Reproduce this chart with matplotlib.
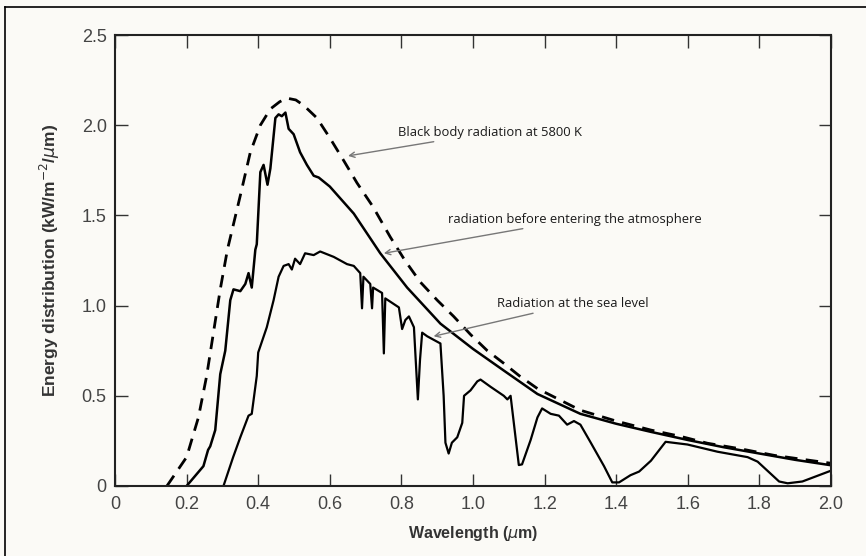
import matplotlib
matplotlib.use("Agg")
import matplotlib.pyplot as plt
from matplotlib.lines import Line2D

# ---- data ----
bb_x = [0.145, 0.20, 0.233, 0.256, 0.275, 0.294, 0.314, 0.35, 0.378, 0.406, 0.434, 0.46, 0.48,
        0.505, 0.527, 0.564, 0.60, 0.64, 0.676, 0.72, 0.769, 0.81, 0.853, 0.90, 0.946, 0.993,
        1.04, 1.086, 1.13, 1.18, 1.24, 1.30, 1.40, 1.497, 1.58, 1.655, 1.75, 1.841, 1.92, 2.0]
bb_y = [0.0, 0.16, 0.38, 0.61, 0.85, 1.09, 1.31, 1.61, 1.85, 2.00, 2.09, 2.13, 2.15,
        2.14, 2.11, 2.04, 1.93, 1.80, 1.68, 1.55, 1.38, 1.25, 1.13, 1.03, 0.94, 0.84,
        0.75, 0.68, 0.61, 0.54, 0.48, 0.42, 0.36, 0.31, 0.275, 0.237, 0.205, 0.17, 0.148, 0.126]

top_x = [0.20, 0.247, 0.26, 0.266, 0.28, 0.294, 0.308, 0.322, 0.331, 0.35, 0.364, 0.373, 0.382,
         0.392, 0.396, 0.406, 0.415, 0.426, 0.434, 0.448, 0.457, 0.466, 0.476, 0.485, 0.499,
         0.517, 0.536, 0.555, 0.569, 0.60, 0.667, 0.741, 0.816, 0.909, 1.0, 1.086, 1.18,
         1.30, 1.40, 1.497, 1.60, 1.70, 1.80, 1.90, 2.0]
top_y = [0.0, 0.11, 0.20, 0.22, 0.31, 0.62, 0.75, 1.03, 1.09, 1.08, 1.12, 1.18, 1.10,
         1.31, 1.34, 1.74, 1.78, 1.67, 1.76, 2.04, 2.06, 2.05, 2.07, 1.98, 1.95,
         1.85, 1.78, 1.72, 1.71, 1.66, 1.51, 1.29, 1.10, 0.90, 0.76, 0.64, 0.51,
         0.40, 0.345, 0.30, 0.255, 0.215, 0.18, 0.145, 0.115]

sea_x = [0.303, 0.33, 0.35, 0.373, 0.382, 0.396, 0.40, 0.424, 0.443, 0.457, 0.471, 0.485, 0.494,
         0.503, 0.517, 0.531, 0.555, 0.573, 0.611, 0.648, 0.667, 0.685, 0.69, 0.694, 0.713,
         0.718, 0.721, 0.746, 0.751, 0.755, 0.793, 0.802, 0.811, 0.821, 0.835, 0.846, 0.852,
         0.858, 0.872, 0.909, 0.918, 0.923, 0.932, 0.941, 0.956, 0.97, 0.975, 0.993, 1.012,
         1.021, 1.049, 1.086, 1.096, 1.105, 1.128, 1.137, 1.161, 1.18, 1.193, 1.217, 1.24,
         1.263, 1.282, 1.30, 1.329, 1.366, 1.389, 1.408, 1.44, 1.464, 1.497, 1.538, 1.599,
         1.683, 1.767, 1.795, 1.855, 1.879, 1.92, 2.0]
sea_y = [0.0, 0.16, 0.27, 0.39, 0.40, 0.61, 0.74, 0.88, 1.03, 1.16, 1.22, 1.23, 1.20,
         1.26, 1.23, 1.29, 1.28, 1.30, 1.27, 1.23, 1.22, 1.18, 0.985, 1.16, 1.12,
         0.985, 1.10, 1.07, 0.735, 1.04, 0.99, 0.87, 0.92, 0.94, 0.88, 0.48, 0.70,
         0.85, 0.83, 0.79, 0.50, 0.24, 0.18, 0.24, 0.27, 0.35, 0.50, 0.53, 0.58,
         0.59, 0.55, 0.50, 0.48, 0.50, 0.116, 0.12, 0.255, 0.38, 0.43, 0.40, 0.39,
         0.34, 0.36, 0.34, 0.24, 0.11, 0.02, 0.02, 0.06, 0.08, 0.14, 0.245, 0.23,
         0.19, 0.16, 0.135, 0.025, 0.015, 0.025, 0.085]

x_ticks = [0, 0.2, 0.4, 0.6, 0.8, 1.0, 1.2, 1.4, 1.6, 1.8, 2.0]
x_tick_labels = ["0", "0.2", "0.4", "0.6", "0.8", "1.0", "1.2", "1.4", "1.6", "1.8", "2.0"]
y_ticks = [0, 0.5, 1.0, 1.5, 2.0, 2.5]
y_tick_labels = ["0", "0.5", "1.0", "1.5", "2.0", "2.5"]

bg = "#fbfaf6"
fig = plt.figure(figsize=(8.66, 5.56), dpi=100, facecolor=bg)
ax = fig.add_axes([115/866, 1-486/556, (831-115)/866, (486-35)/556])
ax.set_facecolor(bg)

ax.plot(bb_x, bb_y, color="black", lw=2.0, linestyle=(0, (4.5, 3)))
ax.plot(top_x, top_y, color="black", lw=1.8)
ax.plot(sea_x, sea_y, color="black", lw=1.6)

ax.set_xlim(0, 2.0)
ax.set_ylim(0, 2.5)
ax.set_xticks(x_ticks)
ax.set_xticklabels(x_tick_labels)
ax.set_yticks(y_ticks)
ax.set_yticklabels(y_tick_labels)

fam = ["Liberation Sans Narrow", "Liberation Sans", "DejaVu Sans"]
for lab in ax.get_xticklabels() + ax.get_yticklabels():
    lab.set_fontfamily(fam)
    lab.set_fontsize(13)
    lab.set_color("#444444")

ax.tick_params(axis="both", direction="in", length=9, width=1.0, color="#333333",
               top=True, right=True)
ax.tick_params(axis="x", pad=7)
ax.tick_params(axis="y", pad=6)
for s in ax.spines.values():
    s.set_linewidth(1.5)
    s.set_color("#222222")

ax.set_xlabel(r"Wavelength ($\mu$m)", fontsize=11.5, fontweight="bold", color="#333333",
              labelpad=8, family=fam)
ax.set_ylabel(r"Energy distribution (kW/m$^{-2}$/$\mu$m)", fontsize=12.5, fontweight="bold",
              color="#333333", labelpad=14, family=fam)

ann_font = dict(fontsize=9.4, family=["Open Sans", "DejaVu Sans"], color="#1a1a1a")
arrow = dict(arrowstyle="->", color="#777777", lw=1.0, shrinkA=0, shrinkB=0)
ax.annotate("Black body radiation at 5800 K", xy=(0.651, 1.83), xytext=(0.79, 1.96),
            va="center", ha="left", arrowprops=arrow, **ann_font)
ax.annotate("radiation before entering the atmosphere", xy=(0.751, 1.29), xytext=(0.931, 1.478),
            va="center", ha="left", arrowprops=arrow, **ann_font)
ax.annotate("Radiation at the sea level", xy=(0.89, 0.83), xytext=(1.068, 1.009),
            va="center", ha="left", arrowprops=arrow, **ann_font)

# scanned figure frame (top and left edges)
fig.add_artist(Line2D([5/866, 1.0], [1-7/556, 1-7/556], transform=fig.transFigure,
                      color="black", lw=1.2))
fig.add_artist(Line2D([5/866, 5/866], [0, 1-7/556], transform=fig.transFigure,
                      color="black", lw=1.2))

fig.savefig("out.png", dpi=100, facecolor=bg)
